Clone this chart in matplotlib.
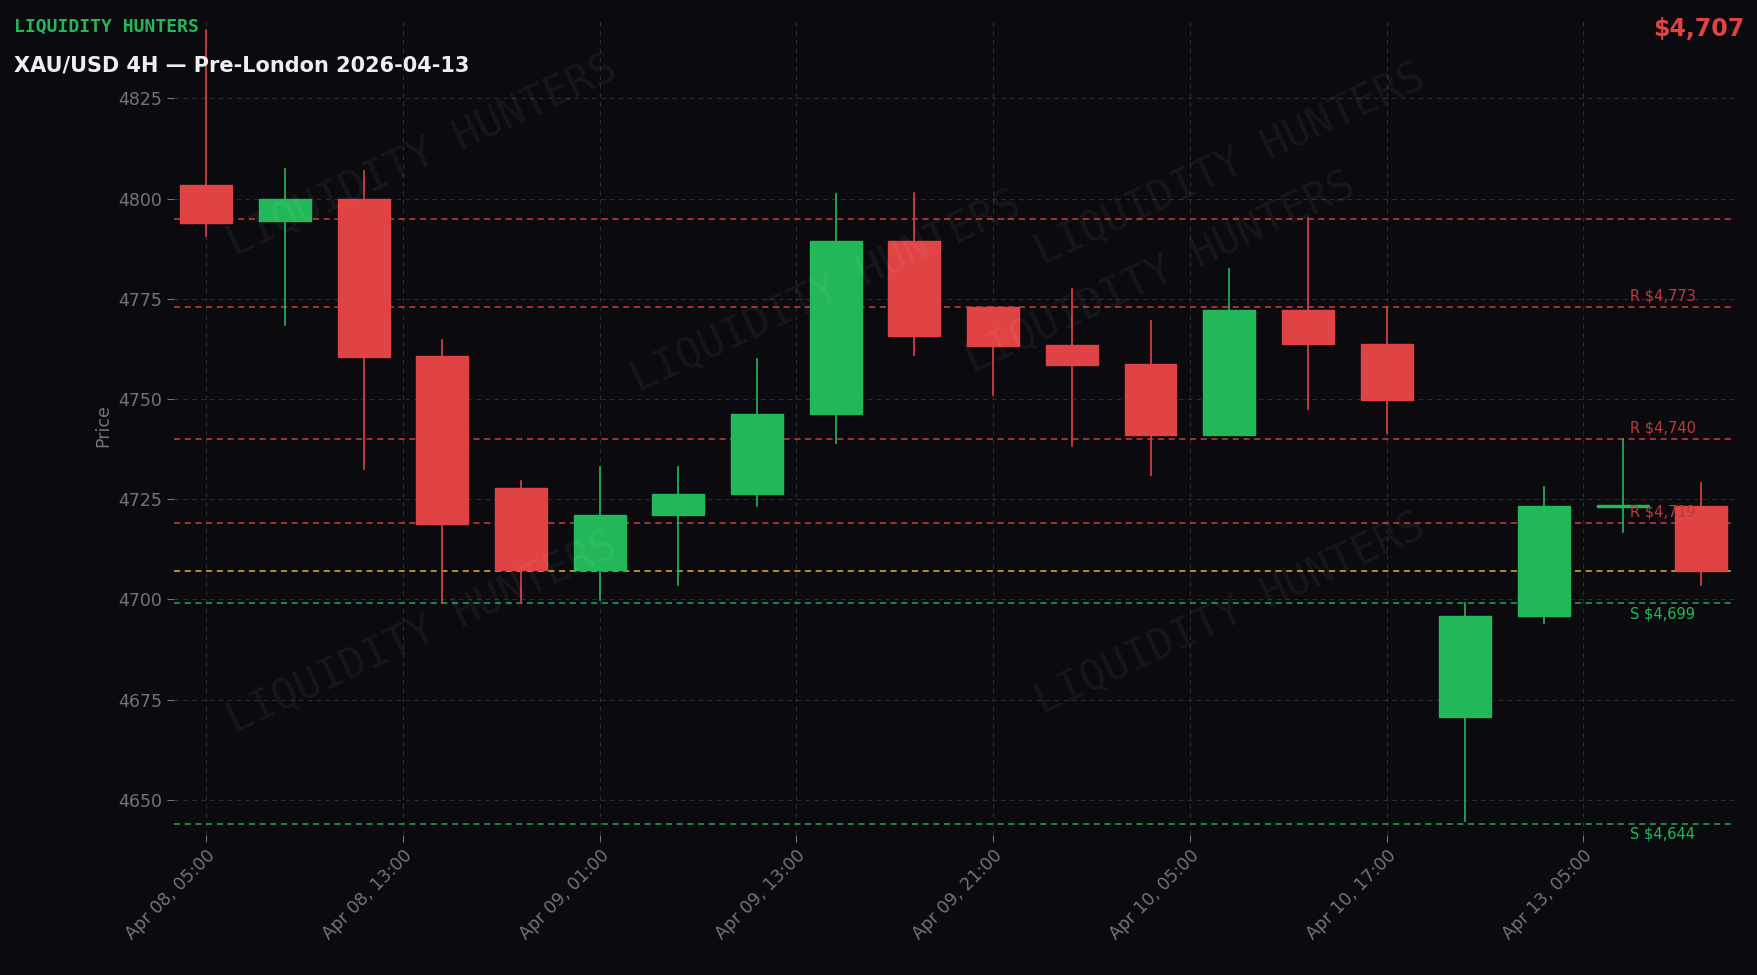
import matplotlib
matplotlib.use("Agg")
import matplotlib.pyplot as plt
from matplotlib.patches import Rectangle

opens  = [4803.5,4794.5,4800.0,4760.7,4727.7,4707.3,4721.0,4726.3,4746.2,4789.5,4773.0,4763.5,4758.8,4741.1,4772.2,4763.8,4670.7,4695.8,4723.0,4723.4]
highs  = [4842.0,4807.4,4806.8,4764.6,4729.4,4733.0,4733.0,4759.9,4801.2,4801.5,4773.0,4777.5,4769.4,4782.5,4795.1,4773.0,4699.2,4728.0,4740.0,4729.1]
lows   = [4790.6,4768.5,4732.5,4699.0,4699.0,4699.8,4703.7,4723.2,4738.9,4761.0,4750.9,4738.3,4731.0,4741.1,4747.6,4741.4,4644.7,4694.2,4716.8,4703.7]
closes = [4794.0,4800.0,4760.4,4718.8,4707.3,4721.0,4726.3,4746.2,4789.5,4765.7,4763.2,4758.5,4741.1,4772.2,4763.8,4749.8,4695.8,4723.2,4723.6,4707.0]
tick_pos = [0,2.5,5,7.5,10,12.5,15,17.5]
tick_labels = ["Apr 08, 05:00","Apr 08, 13:00","Apr 09, 01:00","Apr 09, 13:00","Apr 09, 21:00","Apr 10, 05:00","Apr 10, 17:00","Apr 13, 05:00"]
res_levels = [4795, 4773, 4740, 4719]
res_labels = [None, "R $4,773", "R $4,740", "R $4,719"]
sup_levels = [4699, 4644]
sup_labels = ["S $4,699", "S $4,644"]
current = 4707

BG = "#0b0b0f"; RED = "#e04343"; GREEN = "#22b85a"
fig = plt.figure(figsize=(17.58, 9.75), dpi=100, facecolor=BG)
ax = fig.add_axes([0.099, 0.144, 0.888, 0.839], facecolor=BG)

for i,(o,h,l,c) in enumerate(zip(opens,highs,lows,closes)):
    col = GREEN if c >= o else RED
    ax.plot([i,i],[l,h], color=col, lw=1.2, zorder=3)
    ax.add_patch(Rectangle((i-0.33, min(o,c)), 0.66, max(abs(c-o),0.4), facecolor=col, edgecolor=col, zorder=4))

ax.set_xlim(-0.41, 19.43)
ax.set_ylim(4641.3, 4845.4)
for lv, lb in zip(res_levels, res_labels):
    ax.axhline(lv, color=RED, ls=(0,(4,3)), lw=1.1, alpha=0.9, zorder=2)
    if lb:
        ax.text(18.1, lv+0.8, lb, color="#c0393b", fontsize=10.5, va="bottom", zorder=5)
for lv, lb in zip(sup_levels, sup_labels):
    ax.axhline(lv, color=GREEN, ls=(0,(4,3)), lw=1.1, alpha=0.9, zorder=2)
    ax.text(18.1, lv-0.8, lb, color=GREEN, fontsize=10.5, va="top", zorder=5)
ax.axhline(current, color="#e0b040", ls=(0,(4,3)), lw=1.1, zorder=2)

ax.set_xticks(tick_pos)
ax.set_xticklabels(tick_labels, rotation=45, ha="right", rotation_mode="anchor")
ax.set_yticks([4650,4675,4700,4725,4750,4775,4800,4825])
ax.tick_params(colors="#70747c", labelsize=12.5, length=5)
ax.grid(True, color="#2a2c32", ls=(0,(4,4)), lw=0.8)
for s in ax.spines.values(): s.set_visible(False)
ax.set_ylabel("Price", color="#70747c", fontsize=12.5)

for (x,y) in [(0.24,0.84),(0.70,0.83),(0.47,0.70),(0.66,0.72),(0.24,0.35),(0.70,0.37)]:
    fig.text(x, y, "LIQUIDITY HUNTERS", color="white", alpha=0.05, fontsize=30, family="DejaVu Sans Mono",
             rotation=25, ha="center", va="center")

fig.text(0.008, 0.973, "LIQUIDITY HUNTERS", color=GREEN, fontsize=13, family="DejaVu Sans Mono", weight="bold", va="center")
fig.text(0.008, 0.933, "XAU/USD 4H — Pre-London 2026-04-13", color="#eeeeee", fontsize=15, weight="bold", va="center")
fig.text(0.992, 0.97, "$4,707", color=RED, fontsize=17, weight="bold", ha="right", va="center")
fig.savefig("out.png", dpi=100, facecolor=BG)
